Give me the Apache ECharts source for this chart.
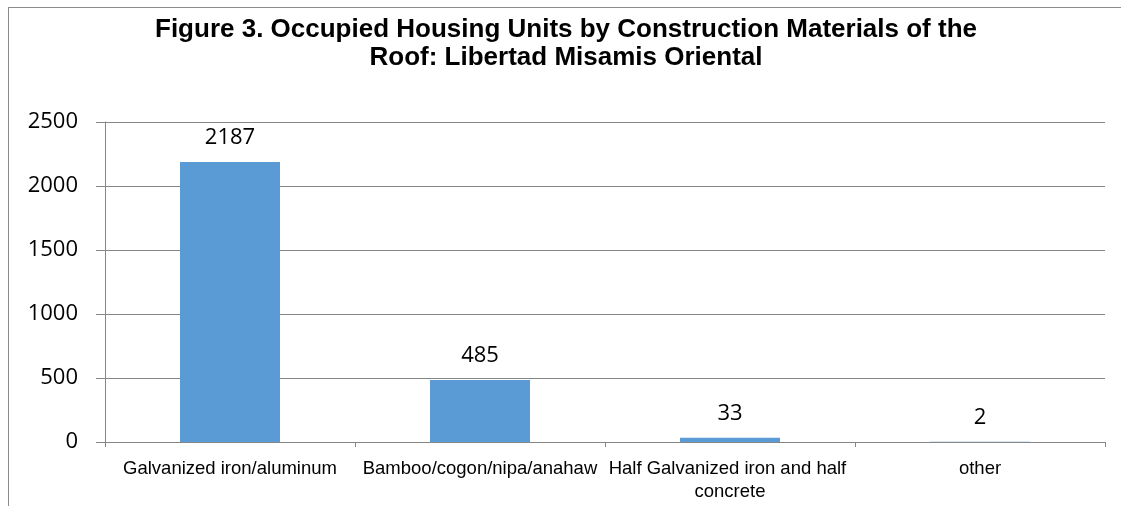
<!DOCTYPE html>
<html>
<head>
<meta charset="utf-8">
<script src="https://cdn.jsdelivr.net/npm/echarts@6/dist/echarts.min.js"></script>
<style>
  html, body { margin: 0; padding: 0; background: #fff; }
  #frame { position: absolute; left: 8px; top: 7px; width: 1121px; height: 506px;
           border-top: 1px solid #8c8c8c; border-left: 1px solid #8c8c8c; }
  #chart { position: absolute; left: 0; top: 0; width: 1121px; height: 506px; }
</style>
</head>
<body>
<div id="frame"></div>
<div id="chart"></div>
<script>
// roof materials, occupied housing units
const categories = ["Galvanized iron/aluminum", "Bamboo/cogon/nipa/anahaw", "Half Galvanized iron and half concrete", "other"];
const units = [2187, 485, 33, 2];
const yTicks = [0, 500, 1000, 1500, 2000, 2500];

const chart = echarts.init(document.getElementById("chart"));
chart.setOption({
  animation: false,
  title: {
    text: "Figure 3. Occupied Housing Units by Construction Materials of the\nRoof: Libertad Misamis Oriental",
    left: 566, top: 16, textAlign: "center", padding: 0,
    textStyle: { fontFamily: "Liberation Sans", fontSize: 26, fontWeight: "bold", color: "#000", lineHeight: 28 }
  },
  grid: { left: 105, right: 16, top: 122, bottom: 64 },
  xAxis: {
    type: "category",
    data: categories,
    axisLine: { lineStyle: { color: "#868686" } },
    axisTick: { show: true, length: 5, lineStyle: { color: "#868686" } },
    axisLabel: {
      interval: 0, margin: 15, width: 248, overflow: "break",
      fontFamily: "Liberation Sans", fontSize: 18.5, color: "#000", lineHeight: 23
    }
  },
  yAxis: {
    type: "value",
    min: yTicks[0], max: yTicks[yTicks.length - 1], interval: 500,
    axisLine: { show: true, lineStyle: { color: "#868686" } },
    axisTick: { show: true, length: 9, lineStyle: { color: "#868686" } },
    splitLine: { lineStyle: { color: "#868686" } },
    axisLabel: { margin: 27, fontFamily: "Open Sans", fontSize: 22, color: "#000", formatter: v => String(v) }
  },
  series: [{
    type: "bar",
    data: units,
    barWidth: "40%",
    itemStyle: { color: "#5b9bd5" },
    label: {
      show: true, position: "top", distance: 13,
      fontFamily: "Open Sans", fontSize: 22, color: "#000"
    }
  }]
});
</script>
</body>
</html>
